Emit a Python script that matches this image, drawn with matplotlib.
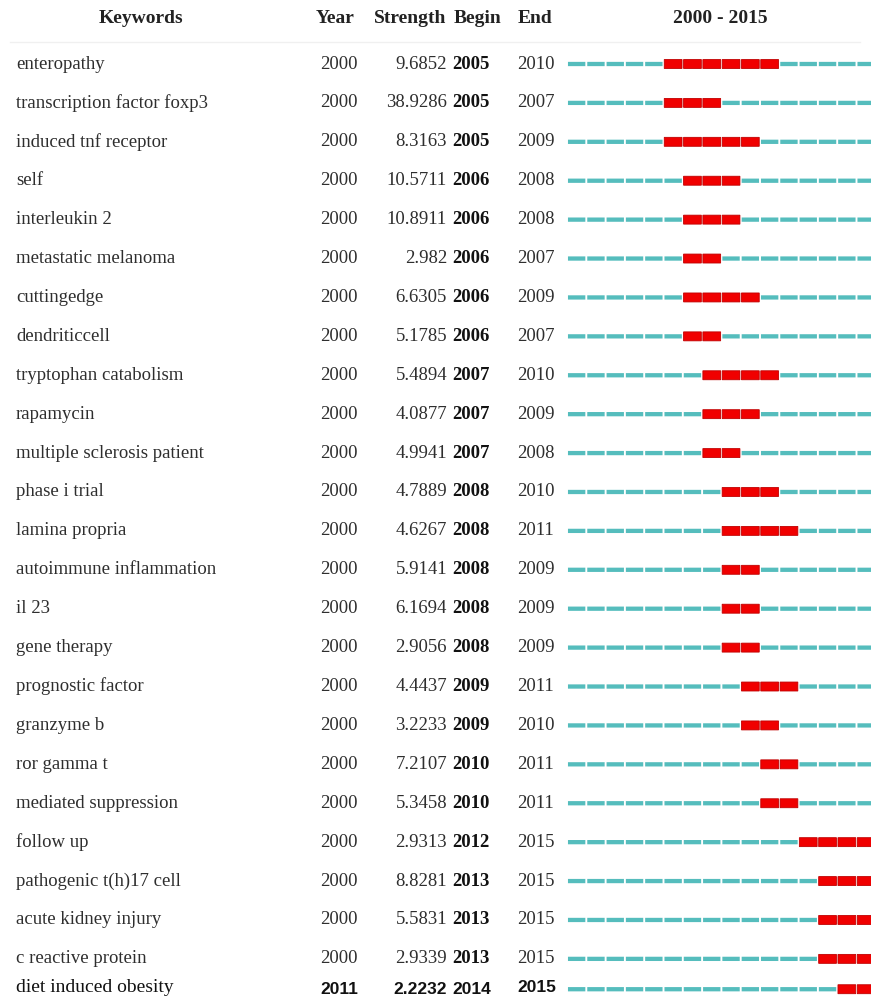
import matplotlib
matplotlib.use('Agg')
import matplotlib.pyplot as plt

# burst keywords (CiteSpace style table)
keywords = ['enteropathy', 'transcription factor foxp3', 'induced tnf receptor', 'self',
            'interleukin 2', 'metastatic melanoma', 'cuttingedge', 'dendriticcell',
            'tryptophan catabolism', 'rapamycin', 'multiple sclerosis patient', 'phase i trial',
            'lamina propria', 'autoimmune inflammation', 'il 23', 'gene therapy',
            'prognostic factor', 'granzyme b', 'ror gamma t', 'mediated suppression',
            'follow up', 'pathogenic t(h)17 cell', 'acute kidney injury', 'c reactive protein',
            'diet induced obesity']
years = [2000] * 24 + [2011]
strength = ['9.6852', '38.9286', '8.3163', '10.5711', '10.8911', '2.982', '6.6305', '5.1785',
            '5.4894', '4.0877', '4.9941', '4.7889', '4.6267', '5.9141', '6.1694', '2.9056',
            '4.4437', '3.2233', '7.2107', '5.3458', '2.9313', '8.8281', '5.5831', '2.9339',
            '2.2232']
begin = [2005, 2005, 2005, 2006, 2006, 2006, 2006, 2006, 2007, 2007, 2007, 2008, 2008, 2008,
         2008, 2008, 2009, 2009, 2010, 2010, 2012, 2013, 2013, 2013, 2014]
end = [2010, 2007, 2009, 2008, 2008, 2007, 2009, 2007, 2010, 2009, 2008, 2010, 2011, 2009,
       2009, 2009, 2011, 2010, 2011, 2011, 2015, 2015, 2015, 2015, 2015]
span_start, span_end = 2000, 2015

W, H = 871, 997
fig = plt.figure(figsize=(W / 100, H / 100), dpi=100)
ax = fig.add_axes([0, 0, 1, 1])
ax.set_xlim(0, 1)
ax.set_ylim(23.98, -1.645)
ax.axis('off')

# bar area: one unit per year
bx0 = 567 / W
yw = 19.3 / W
ax2 = fig.add_axes([bx0, 0, yw * (span_end - span_start + 1), 1])
ax2.set_xlim(span_start, span_end + 1)
ax2.set_ylim(23.98, -1.645)
ax2.axis('off')

plt.rcParams['font.family'] = ['Liberation Serif', 'DejaVu Serif']
tr = ax.get_yaxis_transform()
fs = 13.5
hfs = 14
hy = -1.18

# header
hdr = dict(transform=tr, ha='center', va='center', fontsize=hfs, fontweight='bold', color='#222222')
ax.text(141 / W, hy, 'Keywords', **hdr)
ax.text(335 / W, hy, 'Year', **hdr)
ax.text(410 / W, hy, 'Strength', **hdr)
ax.text(478 / W, hy, 'Begin', **hdr)
ax.text(535 / W, hy, 'End', **hdr)
ax.text(720 / W, hy, '%d - %d' % (span_start, span_end), **hdr)
ax.axhline(-0.57, xmin=10 / W, xmax=860 / W, color='#f0f0f0', lw=1)

teal = '#55bdbd'
red = '#f00000'
n = len(keywords)
for i in range(n):
    last = (i == n - 1)
    y = i - 0.22 if last else i
    col = '#111111' if last else '#2e2e2e'
    if last:
        num = dict(transform=tr, va='center', fontsize=12.5, fontweight='bold',
                   family=['Liberation Sans', 'DejaVu Sans'], color='#111111')
    else:
        num = dict(transform=tr, va='center', fontsize=fs, color='#2e2e2e')
    ax.text(16 / W, y - (0.05 if last else 0), keywords[i], transform=tr, ha='left', va='center',
            fontsize=14 if last else fs, color=col)
    ax.text(320 / W, y, str(years[i]), ha='left', **num)
    ax.text(447 / W, y, strength[i], ha='right', **num)
    if last:
        ax.text(452 / W, y, str(begin[i]), ha='left', **num)
        ax.text(517 / W, y - 0.05, str(end[i]), ha='left', **num)
    else:
        ax.text(452 / W, y, str(begin[i]), transform=tr, ha='left', va='center', fontsize=fs,
                fontweight='bold', color='#111111')
        ax.text(517 / W, y, str(end[i]), ha='left', **num)
    for yr in range(span_start, span_end + 1):
        if begin[i] <= yr <= end[i]:
            h = 0.23
            ax2.bar(yr + 0.04, h, width=0.92, bottom=y - h / 2, align='edge', color=red,
                    edgecolor='#c00000', linewidth=0.6, snap=False)
        else:
            h = 0.11
            ax2.bar(yr + 0.05, h, width=0.9, bottom=y - h / 2, align='edge', color=teal,
                    edgecolor='none', snap=False)

fig.savefig('out.png', dpi=100)
